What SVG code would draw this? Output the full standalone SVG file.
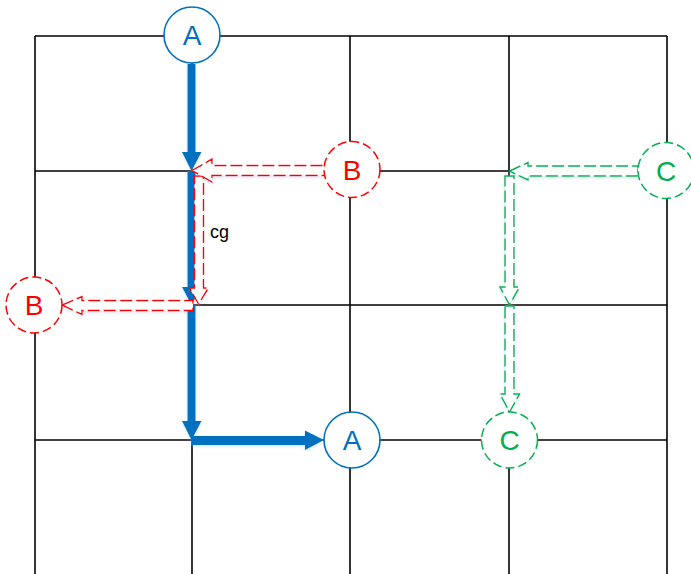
<svg xmlns="http://www.w3.org/2000/svg" width="691" height="574" viewBox="0 0 691 574">
  <defs>
    <filter id="glow" x="-20%" y="-20%" width="140%" height="140%">
      <feDropShadow dx="0" dy="1.5" stdDeviation="1.5" flood-color="#9dc3e6" flood-opacity="0.45"/>
    </filter>
  </defs>
  <style>
    .grid line { stroke: #000; stroke-width: 1.6; }
    .blue { fill: #0070C0; }
    .red-arrow { fill: #fff; stroke: #FF0000; stroke-width: 1.4; stroke-dasharray: 12 4; }
    .green-arrow { fill: #fff; stroke: #00B050; stroke-width: 1.4; stroke-dasharray: 12 4; }
    .node-a circle { fill: #fff; stroke: #0070C0; stroke-width: 1.6; }
    .node-b circle { fill: #fff; stroke: #FF0000; stroke-width: 1.5; stroke-dasharray: 9 4; }
    .node-c circle { fill: #fff; stroke: #00B050; stroke-width: 1.5; stroke-dasharray: 9 4; }
    .lbl { font-family: "Liberation Sans", Arial, sans-serif; font-size: 28px; text-anchor: middle; }
    .node-a text { fill: #0070C0; }
    .node-b text { fill: #FF0000; }
    .node-c text { fill: #00B050; }
  </style>

  <!-- background grid -->
  <g class="grid">
    <line x1="35" y1="36" x2="35" y2="574"/>
    <line x1="192" y1="36" x2="192" y2="574"/>
    <line x1="350" y1="36" x2="350" y2="574"/>
    <line x1="509" y1="36" x2="509" y2="574"/>
    <line x1="667" y1="36" x2="667" y2="574"/>
    <line x1="35" y1="36" x2="667" y2="36"/>
    <line x1="35" y1="171" x2="667" y2="171"/>
    <line x1="35" y1="305" x2="667" y2="305"/>
    <line x1="35" y1="440" x2="667" y2="440"/>
  </g>

  <!-- connectors -->
  <g id="connectors" filter="url(#glow)">
    <!-- path A: thick solid blue arrows -->
    <polygon class="blue" points="187.5,64 195.5,64 195.5,152 201.5,152 191.5,171 182,152 187.5,152"/>
    <polygon class="blue" points="187.5,171 195.5,171 195.5,287 201.5,287 191.5,305 182,287 187.5,287"/>
    <polygon class="blue" points="187.5,305 195.5,305 195.5,421 201.5,421 191.5,440 182,421 187.5,421"/>
    <polygon class="blue" points="191.5,436 305,436 305,430.5 324,440 305,450 305,445 191.5,445"/>

    <!-- path B: hollow dashed red arrows -->
    <polygon class="red-arrow" points="194.5,176 203.5,176 203.5,288 208.5,288 198.5,304 189.5,288 194.5,288"/>
    <polygon class="red-arrow" points="192,170.5 212,159 212,165.5 325,165.5 325,175.5 212,175.5 212,182"/>
    <polygon class="red-arrow" points="62,305 82,296.5 82,300.5 193,300.5 193,310.5 82,310.5 82,314.5"/>

    <!-- path C: hollow dashed green arrows -->
    <polygon class="green-arrow" points="505,176 514,176 514,287 519.5,287 509.5,305 500,287 505,287"/>
    <polygon class="green-arrow" points="505,306 514,306 514,394 519.5,394 509.5,412 500,394 505,394"/>
    <polygon class="green-arrow" points="509.5,171 528,162.5 528,166 638,166 638,176 528,176 528,180"/>
  </g>

  <text x="210" y="238" font-family="Liberation Sans, Arial, sans-serif" font-size="18" fill="#000">cg</text>

  <!-- nodes -->
  <g id="a-start" class="node-a">
    <circle cx="192" cy="35" r="28"/>
    <text class="lbl" x="192" y="45">A</text>
  </g>
  <g id="a-end" class="node-a">
    <circle cx="352" cy="440" r="28"/>
    <text class="lbl" x="352" y="450">A</text>
  </g>
  <g id="b-start" class="node-b">
    <circle cx="352" cy="169.5" r="28"/>
    <text class="lbl" x="352" y="179.5">B</text>
  </g>
  <g id="b-end" class="node-b">
    <circle cx="34" cy="305" r="28"/>
    <text class="lbl" x="34" y="315">B</text>
  </g>
  <g id="c-start" class="node-c">
    <circle cx="666" cy="170.5" r="28"/>
    <text class="lbl" x="666" y="180.5">C</text>
  </g>
  <g id="c-end" class="node-c">
    <circle cx="509.5" cy="440" r="28"/>
    <text class="lbl" x="509.5" y="450">C</text>
  </g>
</svg>
